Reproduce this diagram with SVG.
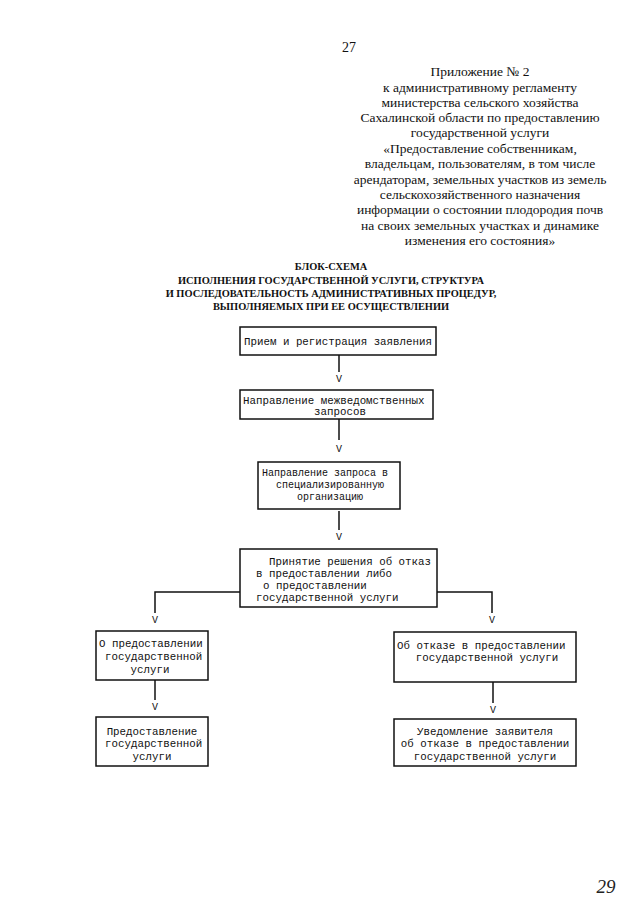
<svg xmlns="http://www.w3.org/2000/svg" width="640" height="905" viewBox="0 0 640 905">
<style>
.hd{font-family:"Liberation Serif","Times New Roman",serif;font-size:13.5px;fill:#111;text-anchor:middle}
.tt{font-family:"Liberation Serif","Times New Roman",serif;font-size:10.4px;font-weight:bold;fill:#111;text-anchor:middle}
.bx{fill:#fff;stroke:#111;stroke-width:1.5}
.tx{font-family:"Liberation Mono","Courier New",monospace;font-size:10.8px;fill:#111}
.tc{text-anchor:middle}
.ar{font-family:"Liberation Mono","Courier New",monospace;font-size:10px;fill:#111;text-anchor:middle}
.ln{fill:none;stroke:#111;stroke-width:1.5}
</style>
<rect width="640" height="905" fill="#fff"/>
<text x="349" y="52" class="hd" style="font-size:14px">27</text>
<g id="header">
<text class="hd" x="480" y="76">Приложение № 2</text>
<text class="hd" x="480" y="92">к административному регламенту</text>
<text class="hd" x="480" y="107">министерства сельского хозяйства</text>
<text class="hd" x="480" y="122">Сахалинской области по предоставлению</text>
<text class="hd" x="480" y="137">государственной услуги</text>
<text class="hd" x="480" y="153">«Предоставление собственникам,</text>
<text class="hd" x="480" y="168">владельцам, пользователям, в том числе</text>
<text class="hd" x="480" y="184">арендаторам, земельных участков из земель</text>
<text class="hd" x="480" y="199">сельскохозяйственного назначения</text>
<text class="hd" x="480" y="214">информации о состоянии плодородия почв</text>
<text class="hd" x="480" y="230">на своих земельных участках и динамике</text>
<text class="hd" x="480" y="245">изменения его состояния»</text>
</g>
<g id="title">
<text class="tt" x="331" y="270">БЛОК-СХЕМА</text>
<text class="tt" x="331" y="284">ИСПОЛНЕНИЯ ГОСУДАРСТВЕННОЙ УСЛУГИ, СТРУКТУРА</text>
<text class="tt" x="331" y="297">И ПОСЛЕДОВАТЕЛЬНОСТЬ АДМИНИСТРАТИВНЫХ ПРОЦЕДУР,</text>
<text class="tt" x="331" y="310">ВЫПОЛНЯЕМЫХ ПРИ ЕЕ ОСУЩЕСТВЛЕНИИ</text>
</g>
<g id="connectors">
<path class="ln" d="M339 355V372"/>
<text class="ar" x="339" y="382">V</text>
<path class="ln" d="M339 419V440"/>
<text class="ar" x="339" y="452">V</text>
<path class="ln" d="M339 511V530"/>
<text class="ar" x="339" y="540">V</text>
<path class="ln" d="M240 592H155V613"/>
<text class="ar" x="155" y="623">V</text>
<path class="ln" d="M437 592H492V613"/>
<text class="ar" x="492" y="623">V</text>
<path class="ln" d="M155 680V700"/>
<text class="ar" x="155" y="710">V</text>
<path class="ln" d="M493 682V703"/>
<text class="ar" x="493" y="713">V</text>
</g>
<g id="n1">
<rect class="bx" x="240" y="327" width="196" height="28"/>
<text class="tx tc" x="338" y="345">Прием и регистрация заявления</text>
</g>
<g id="n2">
<rect class="bx" x="240" y="390" width="193" height="29"/>
<text class="tx" x="243" y="404">Направление межведомственных</text>
<text class="tx tc" x="340" y="415">запросов</text>
</g>
<g id="n3">
<rect class="bx" x="258" y="462" width="142" height="47"/>
<text class="tx" x="262" y="476" style="font-size:10px">Направление запроса в</text>
<text class="tx tc" x="330" y="488" style="font-size:10px">специализированную</text>
<text class="tx tc" x="330" y="500" style="font-size:10px">организацию</text>
</g>
<g id="n4">
<rect class="bx" x="240" y="549" width="197" height="58"/>
<text class="tx" x="269" y="565">Принятие решения об отказ</text>
<text class="tx" x="256" y="577">в предоставлении либо</text>
<text class="tx" x="263" y="589">о предоставлении</text>
<text class="tx" x="256" y="601">государственной услуги</text>
</g>
<g id="n5">
<rect class="bx" x="96" y="631" width="112" height="49"/>
<text class="tx" x="99" y="647">О предоставлении</text>
<text class="tx" x="105" y="660">государственной</text>
<text class="tx tc" x="150" y="673">услуги</text>
</g>
<g id="n6">
<rect class="bx" x="96" y="717" width="112" height="49"/>
<text class="tx tc" x="152" y="735">Предоставление</text>
<text class="tx" x="105" y="747">государственной</text>
<text class="tx tc" x="152" y="760">услуги</text>
</g>
<g id="n7">
<rect class="bx" x="394" y="632" width="182" height="50"/>
<text class="tx" x="397" y="649">Об отказе в предоставлении</text>
<text class="tx tc" x="487" y="661">государственной услуги</text>
</g>
<g id="n8">
<rect class="bx" x="394" y="719" width="182" height="47"/>
<text class="tx tc" x="485" y="735">Уведомление заявителя</text>
<text class="tx tc" x="485" y="747">об отказе в предоставлении</text>
<text class="tx tc" x="485" y="760">государственной услуги</text>
</g>
<text x="606" y="893" style="font-family:'Liberation Serif',serif;font-style:italic;font-size:19px;fill:#222" text-anchor="middle">29</text>
</svg>
